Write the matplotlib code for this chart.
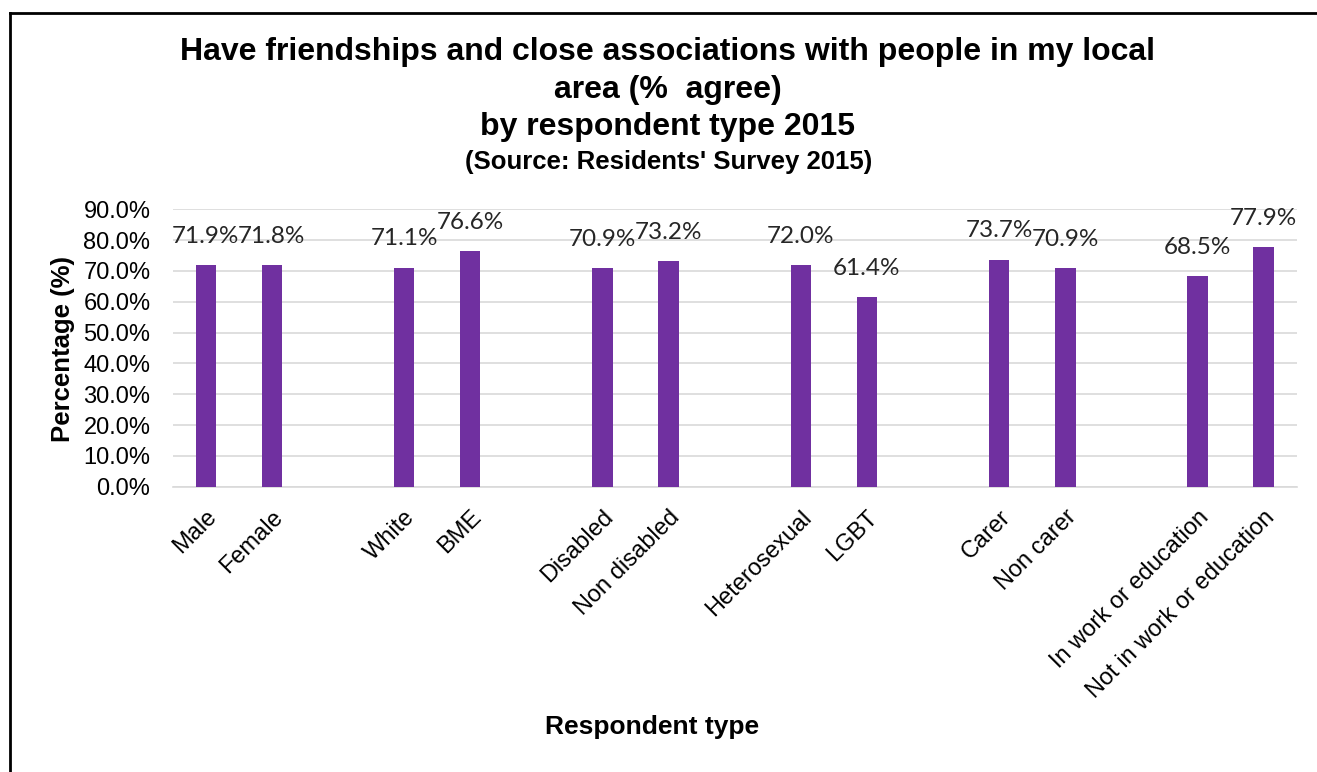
import matplotlib
matplotlib.use("Agg")
import matplotlib.pyplot as plt
from matplotlib.lines import Line2D
from matplotlib.ticker import FuncFormatter, MultipleLocator

categories = [
    "Male", "Female",
    "White", "BME",
    "Disabled", "Non disabled",
    "Heterosexual", "LGBT",
    "Carer", "Non carer",
    "In work or education", "Not in work or education",
]
values = [71.9, 71.8, 71.1, 76.6, 70.9, 73.2, 72.0, 61.4, 73.7, 70.9, 68.5, 77.9]

title_lines = [
    "Have friendships and close associations with people in my local",
    "area (%  agree)",
    "by respondent type 2015",
]
subtitle = "(Source: Residents' Survey 2015)"

BAR_COLOR = "#7030A0"
GRID_COLOR = "#D9D9D9"
SANS = ["Liberation Sans", "DejaVu Sans"]
LABEL_FONT = ["Lato", "DejaVu Sans"]

# bars come in pairs, with one empty slot between pairs
positions = []
slot = 0
for i in range(len(categories)):
    positions.append(slot)
    slot += 1
    if i % 2 == 1:
        slot += 1
n_slots = positions[-1] + 1

W, H = 1317, 772
fig = plt.figure(figsize=(W / 100, H / 100), dpi=100)
fig.patch.set_facecolor("white")

ax = fig.add_axes([172.7 / W, 1 - 486.7 / H, (1296.7 - 172.7) / W, (486.7 - 209.3) / H])

ax.bar(positions, values, width=0.31, color=BAR_COLOR, zorder=3)

ax.set_xlim(-0.5, n_slots - 0.5)
ax.set_ylim(0, 90)
ax.yaxis.set_major_locator(MultipleLocator(10))
ax.yaxis.set_major_formatter(FuncFormatter(lambda v, _: f"{v:.1f}%"))
ax.grid(axis="y", color=GRID_COLOR, linewidth=1.2, zorder=0)
ax.set_axisbelow(True)
for side in ["top", "right", "left"]:
    ax.spines[side].set_visible(False)
ax.spines["bottom"].set_color(GRID_COLOR)
ax.spines["bottom"].set_linewidth(1.2)
ax.tick_params(axis="both", length=0)
ax.tick_params(axis="y", pad=16)

for lbl in ax.get_yticklabels():
    lbl.set_fontfamily(SANS)
    lbl.set_fontsize(17)

ax.set_xticks(positions)
ax.set_xticklabels(categories, rotation=45, ha="right", rotation_mode="anchor",
                   family=SANS, fontsize=17)
ax.tick_params(axis="x", pad=14)

for x, v in zip(positions, values):
    ax.annotate(f"{v:.1f}%", (x, v), xytext=(0, 13), textcoords="offset points",
                ha="center", va="bottom", fontsize=17.5, family=LABEL_FONT,
                color="#262626")

ax.set_ylabel("Percentage (%)", family=SANS, fontsize=18.5, fontweight="bold")
ax.yaxis.set_label_coords((63 - 172.7) / (1296.7 - 172.7), (486.7 - 349) / (486.7 - 209.3))
ax.yaxis.label.set_va("center")
fig.text(652 / W, 1 - 727 / H, "Respondent type", family=SANS, fontsize=19,
         fontweight="bold", ha="center", va="center")

title_y = [52, 90, 127]
for line, y in zip(title_lines, title_y):
    fig.text(668 / W, 1 - y / H, line, family=SANS, fontsize=23, fontweight="bold",
             ha="center", va="center")
fig.text(669 / W, 1 - 162 / H, subtitle, family=SANS, fontsize=18.5, fontweight="bold",
         ha="center", va="center")

# outer frame (top and left edges)
fig.add_artist(Line2D([10 / W, 1], [1 - 13 / H, 1 - 13 / H], transform=fig.transFigure,
                      color="black", linewidth=2))
fig.add_artist(Line2D([10 / W, 10 / W], [0, 1 - 13 / H], transform=fig.transFigure,
                      color="black", linewidth=2))

fig.savefig("out.png", dpi=100)
